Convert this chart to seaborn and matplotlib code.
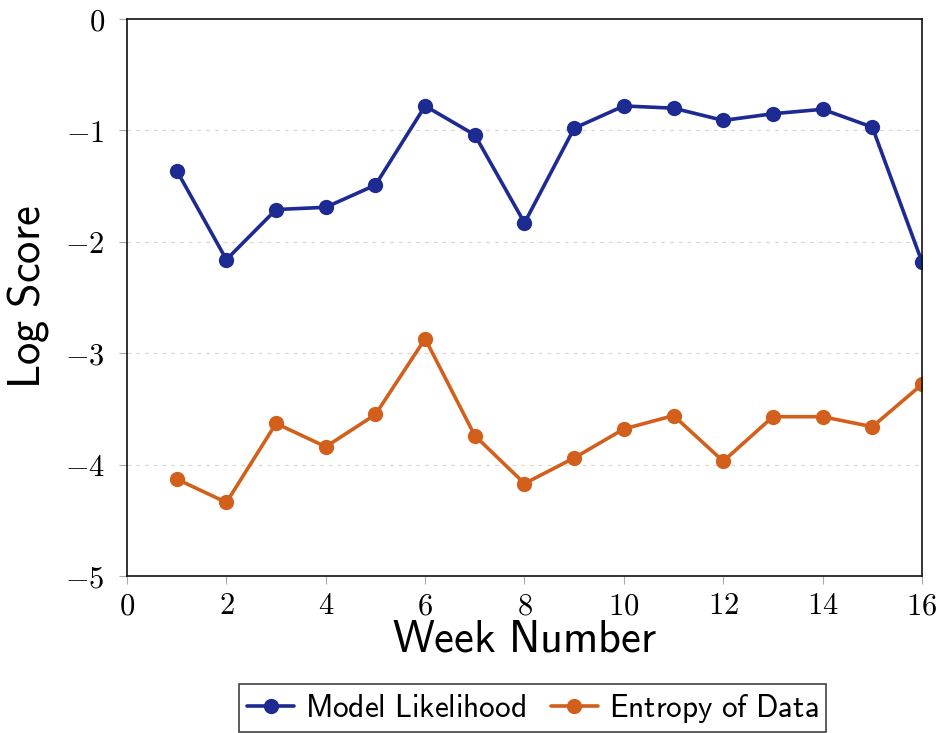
import matplotlib
matplotlib.use("Agg")
import matplotlib.pyplot as plt
import seaborn as sns
import pandas as pd
from matplotlib.ticker import FuncFormatter

weeks = list(range(1, 17))
model_likelihood = [-1.36, -2.16, -1.71, -1.69, -1.49, -0.78, -1.04, -1.83,
                    -0.98, -0.78, -0.80, -0.91, -0.85, -0.81, -0.97, -2.18]
entropy_of_data = [-4.13, -4.34, -3.63, -3.84, -3.55, -2.87, -3.74, -4.17,
                   -3.94, -3.68, -3.56, -3.97, -3.57, -3.57, -3.66, -3.28]
series_names = ["Model Likelihood", "Entropy of Data"]
series_colors = ["#1c2a92", "#d2601c"]
x_ticks = [0, 2, 4, 6, 8, 10, 12, 14, 16]
y_ticks = [0, -1, -2, -3, -4, -5]

df = pd.DataFrame({
    "week": weeks * 2,
    "score": model_likelihood + entropy_of_data,
    "series": [series_names[0]] * len(weeks) + [series_names[1]] * len(weeks),
})

sns.set_style("ticks")
plt.rcParams["mathtext.fontset"] = "cm"
plt.rcParams["font.family"] = ["DejaVu Sans"]
plt.rcParams["text.color"] = "black"
plt.rcParams["axes.labelcolor"] = "black"
plt.rcParams["xtick.labelcolor"] = "black"
plt.rcParams["ytick.labelcolor"] = "black"

fig = plt.figure(figsize=(9.43, 7.33), dpi=100)
ax = fig.add_axes([0.1347, 0.2142, 0.9777 - 0.1347, 0.974 - 0.2142])

sns.lineplot(data=df, x="week", y="score", hue="series",
             hue_order=series_names, palette=series_colors,
             marker="o", markersize=11, markeredgewidth=0,
             linewidth=2.6, ax=ax, legend=True)

ax.set_xlim(0, 16)
ax.set_ylim(-5, 0)
ax.set_xticks(x_ticks)
ax.set_yticks(y_ticks)
ax.xaxis.set_major_formatter(FuncFormatter(lambda v, p: r"$%d$" % v))
ax.yaxis.set_major_formatter(FuncFormatter(lambda v, p: r"$%d$" % v))
ax.tick_params(axis="both", direction="out", length=6, width=0.8,
               color="#aaaaaa", labelsize=22)
ax.tick_params(axis="y", pad=10)
ax.tick_params(axis="x", pad=5)

for y in [-1, -2, -3, -4]:
    ax.axhline(y, color="#d8d8d8", lw=0.9, ls=(0, (3, 4)), zorder=0)

for s in ax.spines.values():
    s.set_visible(True)
    s.set_color("#111111")
    s.set_linewidth(1.2)

ax.set_xlabel(r"$\mathsf{Week\ Number}$", fontsize=32, labelpad=-2)
ax.set_ylabel(r"$\mathsf{Log\ Score}$", fontsize=32, labelpad=10)

handles, labels = ax.get_legend_handles_labels()
ax.legend_.remove()
leg = fig.legend(handles, [r"$\mathsf{%s}$" % l.replace(" ", r"\ ") for l in labels],
                 loc="center", bbox_to_anchor=(0.565, 0.034), ncol=2,
                 fontsize=22.5, frameon=True, fancybox=False, handlelength=1.5,
                 handletextpad=0.35, columnspacing=0.8, borderpad=0.25,
                 borderaxespad=0.0)
leg.get_frame().set_edgecolor("#111111")
leg.get_frame().set_linewidth(1.2)

fig.savefig("out.png", dpi=100)
